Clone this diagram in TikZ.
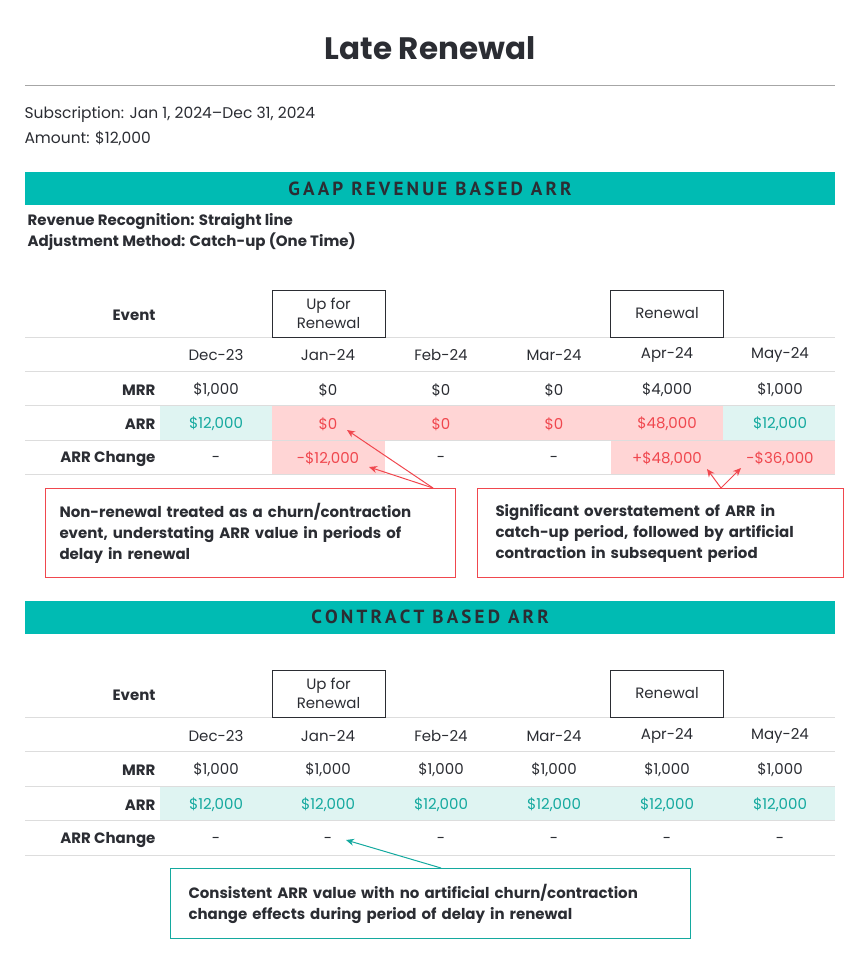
\documentclass[tikz,border=0pt]{standalone}
\usepackage{fontspec}
\setmainfont{Poppins}
\newfontfamily\hdr{PT Sans}
\usetikzlibrary{arrows.meta}
\definecolor{teal1}{HTML}{00BBB3}
\definecolor{tealtxt}{HTML}{14A99F}
\definecolor{tealbg}{HTML}{DFF4F2}
\definecolor{redtxt}{HTML}{F0474E}
\definecolor{redbg}{HTML}{FFD5D5}
\definecolor{ink}{HTML}{2B2D33}
\definecolor{rule}{HTML}{DDDDDD}
\tikzset{
 cell/.style={font=\fontsize{15}{18}\selectfont,text=ink},
 lab/.style={font=\bfseries\fontsize{15}{18}\selectfont,text=ink,anchor=east},
 evbox/.style={draw=ink,minimum width=113pt,minimum height=47pt,inner sep=0pt,align=center,font=\fontsize{15}{19}\selectfont,text=ink},
 bar/.style={fill=teal1,minimum width=810pt,minimum height=33pt,inner sep=0pt,font=\hdr\bfseries\fontsize{19}{21}\selectfont,text=ink},
 callr/.style={draw=redtxt,line width=1pt,align=left,anchor=north west,inner xsep=14pt,font=\bfseries\fontsize{15}{21}\selectfont,text=ink},
 callt/.style={draw=tealtxt,line width=1pt,align=left,anchor=north west,inner xsep=18pt,font=\bfseries\fontsize{15}{21}\selectfont,text=ink},
 rarr/.style={draw=redtxt,line width=1pt,-{Stealth[length=8pt,width=7pt]}},
 tarr/.style={draw=tealtxt,line width=1pt,-{Stealth[length=8pt,width=7pt]}},
}
\begin{document}
\begin{tikzpicture}[x=1pt,y=-1pt]
\useasboundingbox (0,0) rectangle (860,970);
\node[font=\bfseries\fontsize{31}{34}\selectfont,text=ink] (title) at (430,48) {Late Renewal};
\draw[gray!70,line width=0.8pt] (25,85) -- (835,85);
\node[anchor=west,cell,font=\fontsize{15.5}{18}\selectfont] (sub) at (21,115) {Subscription: Jan 1, 2024–Dec 31, 2024};
\node[anchor=west,cell,font=\fontsize{15.5}{18}\selectfont] (amt) at (21,138) {Amount: \$12,000};
\node[bar] (bar1) at (430,188.5) {G\,A\,A\,P\, R\,E\,V\,E\,N\,U\,E\, B\,A\,S\,E\,D\, A\,R\,R};
\node[lab,anchor=west] (rr) at (24,222) {Revenue Recognition: Straight line};
\node[lab,anchor=west] (am) at (24,242) {Adjustment Method: Catch-up (One Time)};
% table 1 fills
\fill[tealbg] (160,406) rectangle (272,440);
\fill[redbg] (272,406) rectangle (723,440);
\fill[tealbg] (723,406) rectangle (835,440);
\fill[redbg] (272,441) rectangle (385,474);
\fill[redbg] (611,441) rectangle (835,474);
\foreach \y in {337,371,405,440,474} \draw[rule,line width=0.6pt] (25,\y) -- (835,\y);
\node[evbox] (up1) at (328.5,313.5) {Up for\\Renewal};
\node[evbox] (ren1) at (667,313.5) {Renewal};
\node[lab] (ev1) at (159,315) {Event};
\node[lab] (mrr1) at (159,390) {MRR};
\node[lab] (arr1) at (159,424) {ARR};
\node[lab] (ch1) at (159,459) {ARR Change};
\foreach \x/\d/\m/\a/\ac/\c/\cc [count=\i] in {
216/Dec-23/{\$1,000}/{\$12,000}/tealtxt/-/ink,
328/Jan-24/{\$0}/{\$0}/redtxt/{-\$12,000}/redtxt,
441/Feb-24/{\$0}/{\$0}/redtxt/-/ink,
554/Mar-24/{\$0}/{\$0}/redtxt/-/ink,
667/Apr-24/{\$4,000}/{\$48,000}/redtxt/{+\$48,000}/redtxt,
780/May-24/{\$1,000}/{\$12,000}/tealtxt/{-\$36,000}/redtxt}{
 \node[cell] (d1\i) at (\x,355) {\d};
 \node[cell] (m1\i) at (\x,390) {\m};
 \node[cell,text=\ac] (a1\i) at (\x,424) {\a};
 \node[cell,text=\cc] (c1\i) at (\x,459) {\c};
}
\node[callr,minimum width=410pt,minimum height=89pt,text width=382pt] (cl) at (45,488) {Non-renewal treated as a churn/contraction\\event, understating ARR value in periods of\\delay in renewal};
\node[callr,minimum width=358pt,minimum height=89pt,text width=330pt,inner xsep=18pt] (cr) at (477,488) {Significant overstatement of ARR in\\catch-up period, followed by artificial\\contraction in subsequent period};
\coordinate (pl) at (433,488);
\coordinate (pr) at (721,488);
\coordinate (t1) at (347,430);
\coordinate (t2) at (369,467);
\coordinate (t3) at (707,469);
\coordinate (t4) at (741,468);
\draw[rarr] (pl) -- (t1);
\draw[rarr] (pl) -- (t2);
\draw[rarr] (pr) -- (t3);
\draw[rarr] (pr) -- (t4);
% second
\node[bar] (bar2) at (430,617) {C\,O\,N\,T\,R\,A\,C\,T\, B\,A\,S\,E\,D\, A\,R\,R};
\fill[tealbg] (160,787) rectangle (835,820);
\foreach \y in {717,751,786,820,855} \draw[rule,line width=0.6pt] (25,\y) -- (835,\y);
\node[evbox] (up2) at (328.5,693.5) {Up for\\Renewal};
\node[evbox] (ren2) at (667,693.5) {Renewal};
\node[lab] (ev2) at (159,695) {Event};
\node[lab] (mrr2) at (159,770) {MRR};
\node[lab] (arr2) at (159,805) {ARR};
\node[lab] (ch2) at (159,840) {ARR Change};
\foreach \x/\d [count=\i] in {216/Dec-23,328/Jan-24,441/Feb-24,554/Mar-24,667/Apr-24,780/May-24}{
 \node[cell] (d2\i) at (\x,736) {\d};
 \node[cell] (m2\i) at (\x,770) {\$1,000};
 \node[cell,text=tealtxt] (a2\i) at (\x,805) {\$12,000};
 \node[cell] (c2\i) at (\x,840) {-};
}
\node[callt,minimum width=520pt,minimum height=70pt,text width=484pt] (cb) at (170,868) {Consistent ARR value with no artificial churn/contraction\\change effects during period of delay in renewal};
\coordinate (pb) at (441,868);
\coordinate (tb) at (346,840);
\draw[tarr] (pb) -- (tb);
\end{tikzpicture}
\end{document}
